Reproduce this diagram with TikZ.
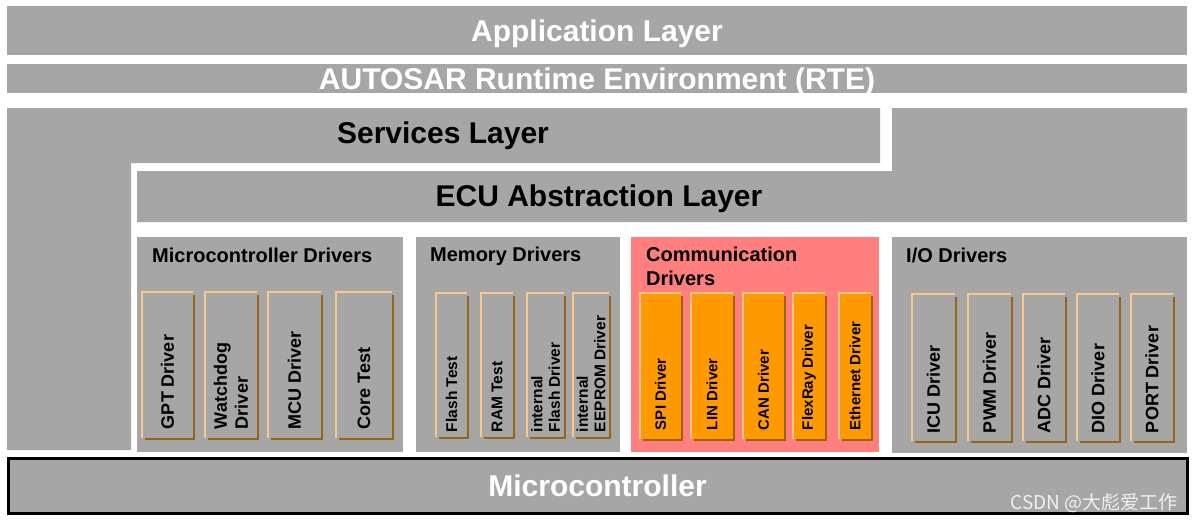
\documentclass[tikz,border=0pt]{standalone}
\usepackage{fontspec}
\setmainfont{Liberation Sans}
\newfontfamily\cjkfont{Noto Sans CJK SC}
\definecolor{layergrey}{HTML}{A6A6A6}
\definecolor{compink}{HTML}{FF7F7F}
\definecolor{drvorange}{HTML}{FF9900}
\definecolor{drvtan}{HTML}{FAC98A}
\definecolor{drvbrown}{HTML}{996515}

\begin{document}
\begin{tikzpicture}[x=1pt, y=-1pt,
  layer/.style={inner sep=0pt, text height=21.5pt, text depth=0pt, font=\fontsize{30}{34}\selectfont\bfseries},
  group/.style={fill=layergrey, inner sep=0pt},
  grouptitle/.style={anchor=base west, inner sep=0pt, align=left, font=\fontsize{20}{24}\selectfont\bfseries},
  drvshade/.style={fill=drvbrown},
  drvbox/.style={inner sep=0pt},
  drvedge/.style={draw=drvtan, line width=1.5pt},
  drvtext/.style={rotate=90, anchor=west, align=left, inner sep=0pt}]

\useasboundingbox (0,0) rectangle (1194,522);

% Application layer and RTE
\node[layer, fill=layergrey, text=white, minimum width=1180, minimum height=49] (app) at (597,30.5) {Application Layer};
\node[layer, fill=layergrey, text=white, minimum width=1180, minimum height=29] (rte) at (597,78.5) {AUTOSAR Runtime Environment (RTE)};

% Services layer (L shape)
\fill[layergrey] (7,108) -- (880,108) -- (880,163) -- (131,163) -- (131,450) -- (7,450) -- cycle;
\node[layer] (srv) at (443,133) {Services Layer};

% ECU abstraction layer
\fill[layergrey] (137,171) -- (892,171) -- (892,108) -- (1187,108) -- (1187,222) -- (137,222) -- cycle;
\node[layer] (ecu) at (599,195.5) {ECU Abstraction Layer};

% Driver groups
\node[group, minimum width=266, minimum height=215] (mcd) at (270,344.5) {};
\node[group, minimum width=204, minimum height=215] (mem) at (518,344.5) {};
\node[group, fill=compink, minimum width=248, minimum height=215] (com) at (755,344.5) {};
\node[group, minimum width=295, minimum height=216] (io) at (1039.5,345) {};

\node[grouptitle] (mcd-t) at (152,262) {Microcontroller Drivers};
\node[grouptitle] (mem-t) at (430,261) {Memory Drivers};
\node[grouptitle] (com-t) at (646,285) {Communication\\Drivers};
\node[grouptitle] (io-t) at (906,262) {I/O Drivers};

% Microcontroller drivers
\foreach \n/\a/\b/\t in {gpt/142/193/{GPT Driver}, wdg/205/257/{Watchdog\\Driver},
                         mcu/268/321/{MCU Driver}, core/336/392/{Core Test}} {
  \fill[drvshade] ({\a+3},295) rectangle ({\b+2},440);
  \node[drvbox, fill=layergrey, minimum width={\b-\a}, minimum height=146] (\n) at ({(\a+\b)/2},365) {};
  \draw[drvedge] (\n.south west) -- (\n.north west) -- (\n.north east);
  \node[drvtext, font=\fontsize{18}{21}\selectfont\bfseries] (\n-t) at ([yshift=9]\n.south) {\t};
}

% Memory drivers
\foreach \n/\a/\b/\t in {fls/436/467/{Flash Test}, ram/481/513/{RAM Test},
                         ifl/527/564/{internal\\Flash Driver}, iee/573/609/{internal\\EEPROM Driver}} {
  \fill[drvshade] ({\a+3},296) rectangle ({\b+2},439);
  \node[drvbox, fill=layergrey, minimum width={\b-\a}, minimum height=144] (\n) at ({(\a+\b)/2},365) {};
  \draw[drvedge] (\n.south west) -- (\n.north west) -- (\n.north east);
  \node[drvtext, font=\fontsize{15.5}{17.5}\selectfont\bfseries] (\n-t) at ([yshift=5]\n.south) {\t};
}

% Communication drivers
\foreach \n/\a/\b/\t in {spi/640/681/{SPI Driver}, lin/691/733/{LIN Driver}, can/743/784/{CAN Driver},
                         fr/793/825/{FlexRay Driver}, eth/839/871/{Ethernet Driver}} {
  \fill[drvshade] ({\a+3},296) rectangle ({\b+2},441);
  \node[drvbox, fill=drvorange, minimum width={\b-\a}, minimum height=146] (\n) at ({(\a+\b)/2},366) {};
  \draw[drvedge] (\n.south west) -- (\n.north west) -- (\n.north east);
  \node[drvtext, font=\fontsize{15}{17}\selectfont\bfseries] (\n-t) at ([yshift=9]\n.south) {\t};
}

% I/O drivers
\foreach \n/\a/\b/\t in {icu/912/955/{ICU Driver}, pwm/968/1011/{PWM Driver}, adc/1023/1065/{ADC Driver},
                         dio/1077/1119/{DIO Driver}, port/1131/1173/{PORT Driver}} {
  \fill[drvshade] ({\a+3},297) rectangle ({\b+2},443);
  \node[drvbox, fill=layergrey, minimum width={\b-\a}, minimum height=147] (\n) at ({(\a+\b)/2},367.5) {};
  \draw[drvedge] (\n.south west) -- (\n.north west) -- (\n.north east);
  \node[drvtext, font=\fontsize{18}{21}\selectfont\bfseries] (\n-t) at ([yshift=8]\n.south) {\t};
}

% Microcontroller
\node[layer, fill=layergrey, text=white, draw=black, line width=3pt, minimum width=1179, minimum height=55] (micro) at (597.5,486) {Microcontroller};
\node[anchor=base east, inner sep=0pt, text=white!88!gray, font=\cjkfont\fontsize{19}{19}\selectfont] (mark) at (1178,509) {CSDN @大彪爱工作};

\end{tikzpicture}
\end{document}
